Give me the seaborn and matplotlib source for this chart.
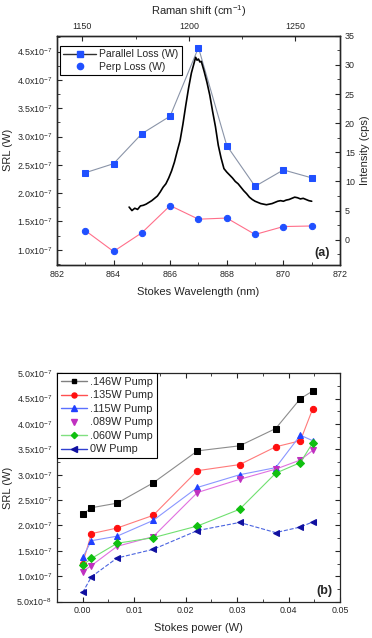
import numpy as np
import pandas as pd
import matplotlib
matplotlib.use('Agg')
import matplotlib.pyplot as plt
from matplotlib.lines import Line2D
from matplotlib.ticker import MultipleLocator, FuncFormatter
import seaborn as sns

#------------------ data : panel (a) ------------------
wavelength = [863, 864, 865, 866, 867, 868, 869, 870, 871]
parallel_loss = [2.36e-7, 2.52e-7, 3.05e-7, 3.36e-7, 4.57e-7, 2.84e-7, 2.12e-7, 2.41e-7, 2.27e-7]
perp_loss = [1.34e-7, 0.97e-7, 1.30e-7, 1.78e-7, 1.54e-7, 1.56e-7, 1.27e-7, 1.41e-7, 1.42e-7]

spec_wl = [864.55, 864.65, 864.75, 864.85, 864.95, 865.05, 865.15, 865.25, 865.35, 865.45,
           865.55, 865.65, 865.75, 865.85, 865.95, 866.05, 866.15, 866.25, 866.35, 866.45,
           866.55, 866.65, 866.75, 866.85, 866.9, 866.95, 867.0, 867.05, 867.1, 867.2,
           867.3, 867.4, 867.5, 867.6, 867.7, 867.8, 867.9, 868.0, 868.1, 868.2,
           868.3, 868.4, 868.5, 868.6, 868.7, 868.8, 868.9, 869.0, 869.1, 869.2,
           869.3, 869.4, 869.5, 869.6, 869.7, 869.8, 869.9, 870.0, 870.1, 870.2,
           870.3, 870.4, 870.5, 870.6, 870.7, 870.8, 870.9, 871.0]
spec_int = [5.6, 5.0, 5.4, 5.2, 5.8, 5.9, 6.1, 6.4, 6.7, 7.1,
            7.5, 8.2, 9.0, 9.6, 10.6, 11.8, 13.3, 15.2, 17.0, 19.8,
            23.0, 26.0, 28.6, 30.4, 31.3, 30.8, 31.0, 30.5, 30.6, 28.9,
            27.0, 24.8, 22.0, 19.4, 16.2, 14.0, 12.2, 11.6, 11.1, 10.6,
            10.0, 9.6, 9.0, 8.4, 7.9, 7.3, 6.9, 6.6, 6.4, 6.2,
            6.1, 6.0, 6.1, 6.2, 6.4, 6.6, 6.7, 6.6, 6.8, 6.9,
            7.1, 7.3, 7.2, 7.0, 7.1, 6.9, 6.7, 6.6]

#------------------ data : panel (b) ------------------
stokes_power = [0.0, 0.0017, 0.0067, 0.0137, 0.0223, 0.0305, 0.0375, 0.0423, 0.0447]
pump_labels = ['.146W Pump', '.135W Pump', '.115W Pump', '.089W Pump', '.060W Pump', '0W Pump']
srl_146 = [2.22, 2.35, 2.44, 2.84, 3.47, 3.57, 3.91, 4.50, 4.65]
srl_135 = [1.25, 1.84, 1.95, 2.20, 3.08, 3.20, 3.55, 3.67, 4.30]
srl_115 = [1.37, 1.70, 1.79, 2.10, 2.75, 3.00, 3.14, 3.78, 3.67]
srl_089 = [1.09, 1.21, 1.59, 1.78, 2.65, 2.91, 3.11, 3.29, 3.48]
srl_060 = [1.22, 1.35, 1.65, 1.76, 1.99, 2.32, 3.03, 3.24, 3.63]
srl_000 = [0.68, 0.99, 1.36, 1.53, 1.90, 2.06, 1.86, 1.97, 2.07]

#------------------ style ------------------
sns.set_style('ticks')
plt.rcParams['font.family'] = ['Liberation Sans', 'DejaVu Sans']
plt.rcParams['mathtext.fontset'] = 'custom'
plt.rcParams['mathtext.rm'] = 'Liberation Sans'
plt.rcParams['mathtext.it'] = 'Liberation Sans:italic'
plt.rcParams['mathtext.bf'] = 'Liberation Sans:bold'
plt.rcParams['xtick.direction'] = 'in'
plt.rcParams['ytick.direction'] = 'in'
plt.rcParams['axes.linewidth'] = 0.9
plt.rcParams['xtick.major.size'] = 3.5
plt.rcParams['ytick.major.size'] = 3.5
plt.rcParams['xtick.minor.size'] = 2
plt.rcParams['ytick.minor.size'] = 2


def sci_fmt(v, pos):
    if v <= 0:
        return ''
    e = int(np.floor(np.log10(v) + 1e-9))
    m = v / 10 ** e
    return f'{m:.1f}x10$^{{{e}}}$'


tick_fs = 6.4
label_fs = 8

fig = plt.figure(figsize=(3.72, 6.38), dpi=100)
axa = fig.add_axes([0.153, 0.585, 0.761, 0.359])
axb = fig.add_axes([0.153, 0.057, 0.761, 0.358])

#------------------ panel (a) ------------------
blue = '#2050ff'
sns.lineplot(x=wavelength, y=parallel_loss, ax=axa, color='#8a94a8', lw=0.8,
             marker='s', markersize=4, markerfacecolor=blue, markeredgecolor=blue)
sns.lineplot(x=wavelength, y=perp_loss, ax=axa, color='#ff6f8a', lw=0.8,
             marker='o', markersize=4.5, markerfacecolor=blue, markeredgecolor=blue)
axa.set_xlim(862, 872)
axa.set_ylim(0.735e-7, 4.78e-7)
axa.xaxis.set_major_locator(MultipleLocator(2))
axa.xaxis.set_minor_locator(MultipleLocator(1))
axa.yaxis.set_major_locator(MultipleLocator(0.5e-7))
axa.yaxis.set_minor_locator(MultipleLocator(0.25e-7))
axa.yaxis.set_major_formatter(FuncFormatter(sci_fmt))
axa.tick_params(labelsize=tick_fs, which='both')
axa.set_xlabel('Stokes Wavelength (nm)', fontsize=label_fs)
axa.set_ylabel('SRL (W)', fontsize=label_fs)
axa.yaxis.set_label_coords(-0.155, 0.5)
axa.xaxis.set_label_coords(0.5, -0.095)

axr = axa.twinx()
sns.lineplot(x=spec_wl, y=spec_int, ax=axr, color='black', lw=1.2)
axr.set_ylim(-4.3, 35)
axr.yaxis.set_major_locator(MultipleLocator(5))
axr.yaxis.set_minor_locator(MultipleLocator(2.5))
axr.tick_params(labelsize=tick_fs, which='both', direction='in')
axr.set_ylabel('Intensity (cps)', fontsize=label_fs)
axr.yaxis.set_label_coords(1.07, 0.5)

axt = axa.twiny()
axt.set_xlim(1138, 1271)
axt.xaxis.set_major_locator(MultipleLocator(50))
axt.xaxis.set_minor_locator(MultipleLocator(25))
axt.tick_params(labelsize=tick_fs, which='both', direction='in')
axt.set_xlabel('Raman shift (cm$^{-1}$)', fontsize=label_fs)
axt.xaxis.set_label_coords(0.5, 1.09)

hand_a = [Line2D([], [], color='#303030', lw=1, marker='s', markersize=4,
                 markerfacecolor=blue, markeredgecolor=blue),
          Line2D([], [], ls='none', marker='o', markersize=4.5,
                 markerfacecolor=blue, markeredgecolor=blue)]
leg = axa.legend(hand_a, ['Parallel Loss (W)', 'Perp Loss (W)'], loc='upper left',
                 bbox_to_anchor=(0.01, 0.955), fontsize=7.5, frameon=True, fancybox=False,
                 edgecolor='black', framealpha=1, borderpad=0.3, labelspacing=0.25,
                 handlelength=3.2, handletextpad=0.3, borderaxespad=0)
leg.get_frame().set_linewidth(0.8)
axa.text(0.965, 0.025, '(a)', transform=axa.transAxes, ha='right', va='bottom',
         fontsize=9, fontweight='bold')

#------------------ panel (b) ------------------
series_b = [srl_146, srl_135, srl_115, srl_089, srl_060, srl_000]
mark_col = ['#000000', '#ff1010', '#2040ff', '#c030c0', '#10c010', '#1010a0']
line_col = ['#8c8c8c', '#ff7a7a', '#8a96ff', '#e070e0', '#70e070', '#4a64e0']
leg_col = ['#808080', '#ff5050', '#5a70ff', '#c030c0', '#80e080', '#3040d0']
markers = ['s', 'o', '^', 'v', 'D', '<']
msizes = [4, 4.5, 4.8, 4.8, 4, 4.8]
styles = ['-', '-', '-', '-', '-', '--']

hand_b = []
for vals, mc, lc, gc, mk, ms, st, lab in zip(series_b, mark_col, line_col, leg_col, markers,
                                             msizes, styles, pump_labels):
    yv = [v * 1e-7 for v in vals]
    sns.lineplot(x=stokes_power, y=yv, ax=axb, color=lc, lw=0.8, linestyle=st,
                 marker=mk, markersize=ms, markerfacecolor=mc, markeredgecolor=mc)
    if lab == '.089W Pump':
        hand_b.append(Line2D([], [], ls='none', marker=mk, markersize=ms * 0.8,
                             markerfacecolor=mc, markeredgecolor=mc))
    else:
        hand_b.append(Line2D([], [], color=gc, lw=1, marker=mk, markersize=ms * 0.8,
                             markerfacecolor=mc, markeredgecolor=mc))

axb.set_xlim(-0.005, 0.05)
axb.set_ylim(0.5e-7, 5.0e-7)
axb.xaxis.set_major_locator(MultipleLocator(0.01))
axb.xaxis.set_minor_locator(MultipleLocator(0.005))
axb.xaxis.set_major_formatter(FuncFormatter(lambda v, p: f'{v:.2f}'))
axb.yaxis.set_major_locator(MultipleLocator(0.5e-7))
axb.yaxis.set_minor_locator(MultipleLocator(0.25e-7))
axb.yaxis.set_major_formatter(FuncFormatter(sci_fmt))
axb.tick_params(labelsize=tick_fs, which='both', top=True, right=True)
axb.set_xlabel('Stokes power (W)', fontsize=label_fs)
axb.set_ylabel('SRL (W)', fontsize=label_fs)
axb.yaxis.set_label_coords(-0.155, 0.5)
axb.xaxis.set_label_coords(0.5, -0.095)

legb = axb.legend(hand_b, pump_labels, loc='upper left', fontsize=7.8, frameon=True,
                  fancybox=False, edgecolor='black', framealpha=1, borderpad=0.35,
                  labelspacing=0.32, handlelength=2.4, handletextpad=0.3, borderaxespad=0)
legb.get_frame().set_linewidth(0.8)
axb.text(0.972, 0.02, '(b)', transform=axb.transAxes, ha='right', va='bottom',
         fontsize=9, fontweight='bold')

fig.savefig('out.png', dpi=100)
